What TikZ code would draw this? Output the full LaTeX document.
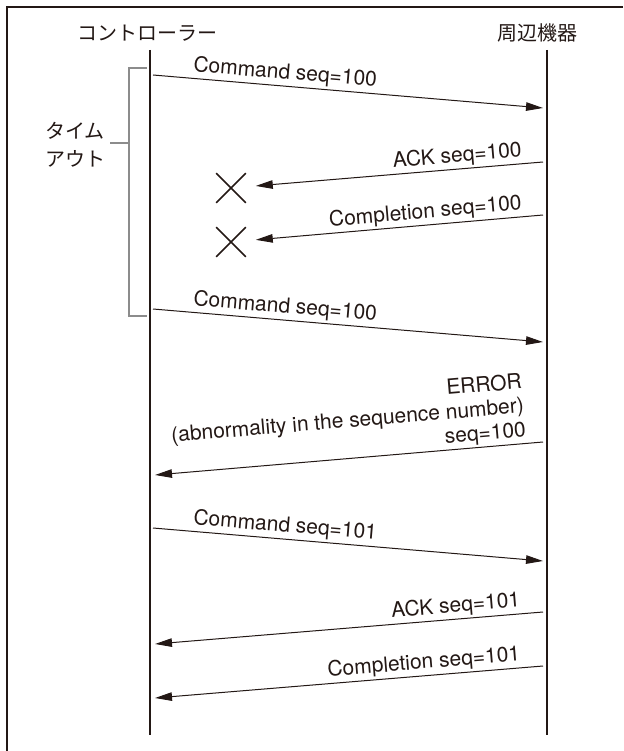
\documentclass[tikz,border=0pt]{standalone}
\usepackage{fontspec}
\setmainfont{TeX Gyre Heros}
\newfontfamily\jpfont{Noto Sans CJK JP}
\usetikzlibrary{arrows.meta,shapes.misc}
\definecolor{ink}{HTML}{231815}
\definecolor{brk}{HTML}{8C8C8C}
\tikzset{
    life/.style={draw=ink, line width=2.4pt},
    msg/.style={draw=ink, line width=1pt, -{Triangle[length=17pt,width=8.5pt]}},
    lbl/.style={sloped, inner sep=2pt, text=ink, font=\fontsize{21}{24}\selectfont},
    head/.style={inner sep=0pt, text=ink, font=\jpfont\fontsize{20}{28}\selectfont},
    lost/.style={cross out, draw=ink, line width=1.6pt, minimum size=28pt, inner sep=0pt},
    timeout/.style={draw=brk, line width=2pt}
}

\begin{document}
\begin{tikzpicture}[x=1pt, y=-1pt]
    \useasboundingbox (0,0) rectangle (623,751);
    \draw[draw=ink, line width=2.4pt] (623,7) -- (7,7) -- (7,751);

    \node[head] (ctl) at (147,33) {コントローラー};
    \node[head] (dev) at (537,33) {周辺機器};
    \coordinate (ctlTop) at (150,50);
    \coordinate (ctlBot) at (150,735);
    \coordinate (devTop) at (547,50);
    \coordinate (devBot) at (547,735);
    \draw[life] (ctlTop) -- (ctlBot);
    \draw[life] (devTop) -- (devBot);

    \draw[timeout] (147,68) -- (129,68) -- (129,316) -- (147,316);
    \draw[timeout] (129,143) -- (110,143);
    \node[head, align=left, anchor=west] (tmo) at (45,145) {タイム\\アウト};

    \node[lost] (lost1) at (231,188) {};
    \node[lost] (lost2) at (231,242) {};

    \coordinate (cmd1) at (153,75);
    \coordinate (cmd1e) at (543,108);
    \coordinate (ack1) at (543,162);
    \coordinate (cpl1) at (543,215);
    \coordinate (cmd2) at (153,309);
    \coordinate (cmd2e) at (543,342);
    \coordinate (err) at (543,442);
    \coordinate (erre) at (155,475);
    \coordinate (cmd3) at (153,528);
    \coordinate (cmd3e) at (543,561);
    \coordinate (ack3) at (543,612);
    \coordinate (ack3e) at (155,644);
    \coordinate (cpl3) at (543,666);
    \coordinate (cpl3e) at (155,698);

    \draw[msg] (cmd1) -- node[lbl, pos=0.095, anchor=south west] {Command seq=100} (cmd1e);
    \draw[msg, shorten >=10pt] (ack1) -- node[lbl, pos=0.06, anchor=south east] {ACK seq=100} (lost1);
    \draw[msg, shorten >=10pt] (cpl1) -- node[lbl, pos=0.06, anchor=south east] {Completion seq=100} (lost2);
    \draw[msg] (cmd2) -- node[lbl, pos=0.095, anchor=south west] {Command seq=100} (cmd2e);
    \draw[msg] (err) -- node[lbl, pos=0.035, anchor=south east, align=right] {ERROR\\(abnormality in the sequence number)\\seq=100} (erre);
    \draw[msg] (cmd3) -- node[lbl, pos=0.095, anchor=south west] {Command seq=101} (cmd3e);
    \draw[msg] (ack3) -- node[lbl, pos=0.05, anchor=south east] {ACK seq=101} (ack3e);
    \draw[msg] (cpl3) -- node[lbl, pos=0.05, anchor=south east] {Completion seq=101} (cpl3e);
\end{tikzpicture}
\end{document}
